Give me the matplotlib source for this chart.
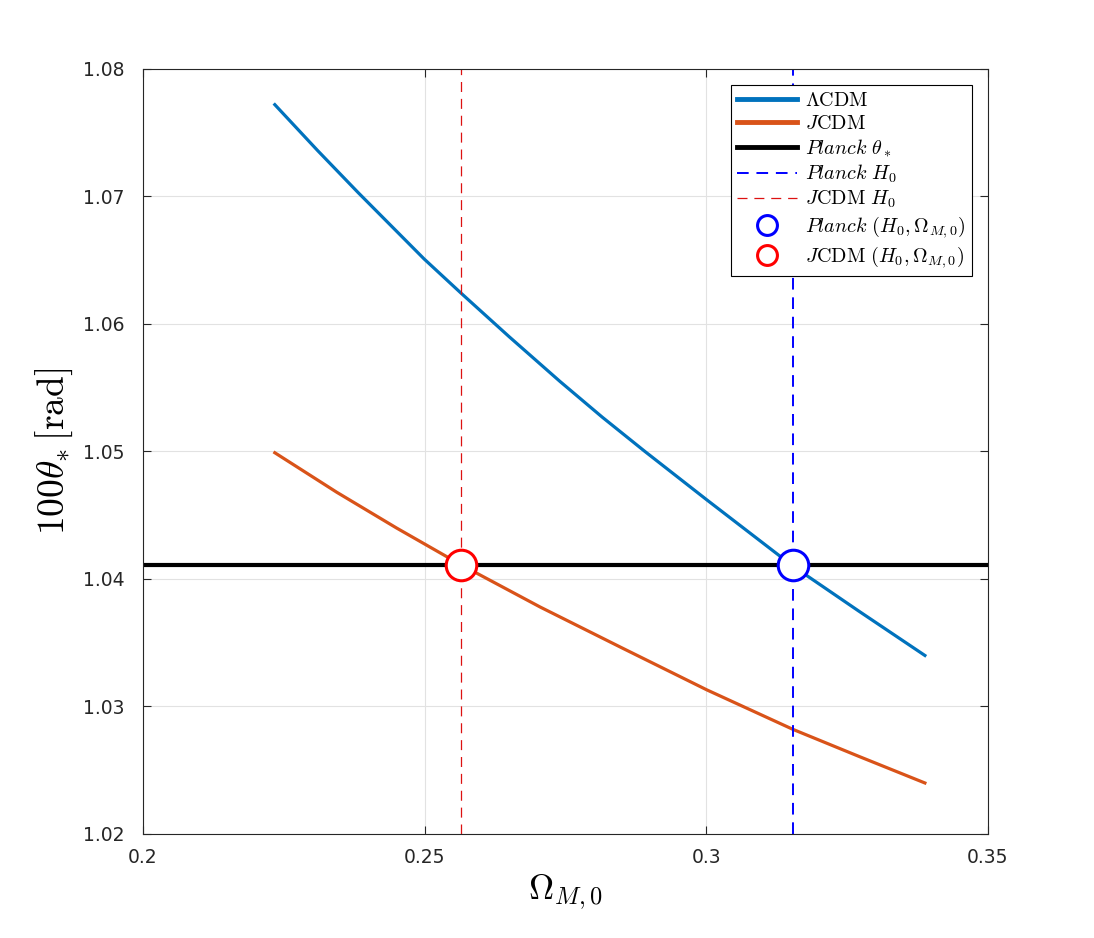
import matplotlib
matplotlib.use("Agg")
import matplotlib.pyplot as plt

# values
omega_lcdm = [0.2234, 0.2310, 0.2382, 0.2499, 0.2565, 0.2650, 0.2740, 0.2815, 0.2891, 0.3001, 0.3154, 0.3270, 0.3388]
theta_lcdm = [1.0772, 1.0736, 1.0703, 1.0651, 1.0624, 1.0590, 1.0555, 1.0527, 1.0500, 1.0462, 1.0410, 1.0375, 1.0340]

omega_jcdm = [0.2234, 0.2344, 0.2450, 0.2565, 0.2705, 0.2850, 0.3001, 0.3154, 0.3270, 0.3388]
theta_jcdm = [1.0499, 1.0468, 1.0440, 1.0411, 1.0378, 1.0346, 1.0313, 1.0282, 1.0261, 1.0240]

planck_theta = 1.0411
planck_omega = 0.3154
jcdm_omega = 0.2565

x_ticks = [0.2, 0.25, 0.3, 0.35]
x_tick_labels = ["0.2", "0.25", "0.3", "0.35"]
y_ticks = [1.02, 1.03, 1.04, 1.05, 1.06, 1.07, 1.08]

plt.rcParams['mathtext.fontset'] = 'cm'
plt.rcParams['font.family'] = ['DejaVu Sans']

fig = plt.figure(figsize=(10.94, 9.38), dpi=100)
ax = fig.add_axes([0.1307, 0.1109, 0.7724, 0.8156])

ax.plot(omega_lcdm, theta_lcdm, color='#0072BD', lw=2.3, label=r'$\Lambda\mathrm{CDM}$')
ax.plot(omega_jcdm, theta_jcdm, color='#D95319', lw=2.3, label=r'$J\mathrm{CDM}$')
ax.axhline(planck_theta, color='black', lw=3, label=r'$Planck\ \theta_*$')
ax.axvline(planck_omega, color='#0000ff', lw=1.4, ls=(0, (6, 4)), label=r'$Planck\ H_0$')
ax.axvline(jcdm_omega, color='#dd1111', lw=0.9, ls=(0, (8, 5.5)), label=r'$J\mathrm{CDM}\ H_0$')
ax.plot([planck_omega], [planck_theta], 'o', ms=22, mfc='white', mec='#0000ff', mew=2.2,
        ls='none', label=r'$Planck\ (H_0,\Omega_{M,0})$')
ax.plot([jcdm_omega], [planck_theta], 'o', ms=22, mfc='white', mec='#ff0000', mew=2.2,
        ls='none', label=r'$J\mathrm{CDM}\ (H_0,\Omega_{M,0})$')

ax.set_xlim(0.2, 0.35)
ax.set_ylim(1.02, 1.08)
ax.set_xticks(x_ticks)
ax.set_xticklabels(x_tick_labels)
ax.set_yticks(y_ticks)
ax.set_yticklabels([f"{v:.2f}" for v in y_ticks])
ax.tick_params(direction='in', top=True, right=True, length=6, width=0.8,
               labelsize=13.5, colors='#262626')
ax.tick_params(axis='y', pad=13)
ax.tick_params(axis='x', pad=10)
ax.grid(True, color='#e2e2e2', lw=0.8)
ax.set_axisbelow(True)
for s in ax.spines.values():
    s.set_color('#262626')
    s.set_linewidth(0.8)

ax.set_xlabel(r'$\Omega_{M,0}$', fontsize=25, labelpad=4)
ax.set_ylabel(r'$100\theta_{*}\,[\mathrm{rad}]$', fontsize=27, labelpad=6)

leg = ax.legend(loc='upper right', fontsize=14.5, handlelength=3.0, markerscale=0.65,
                fancybox=False, edgecolor='black', framealpha=1, borderpad=0.3,
                labelspacing=0.2, handletextpad=0.4, borderaxespad=0.8)
leg.get_frame().set_linewidth(0.8)
for h in leg.get_lines()[:3]:
    h.set_linewidth(3.5)

fig.savefig('out.png', dpi=100)
